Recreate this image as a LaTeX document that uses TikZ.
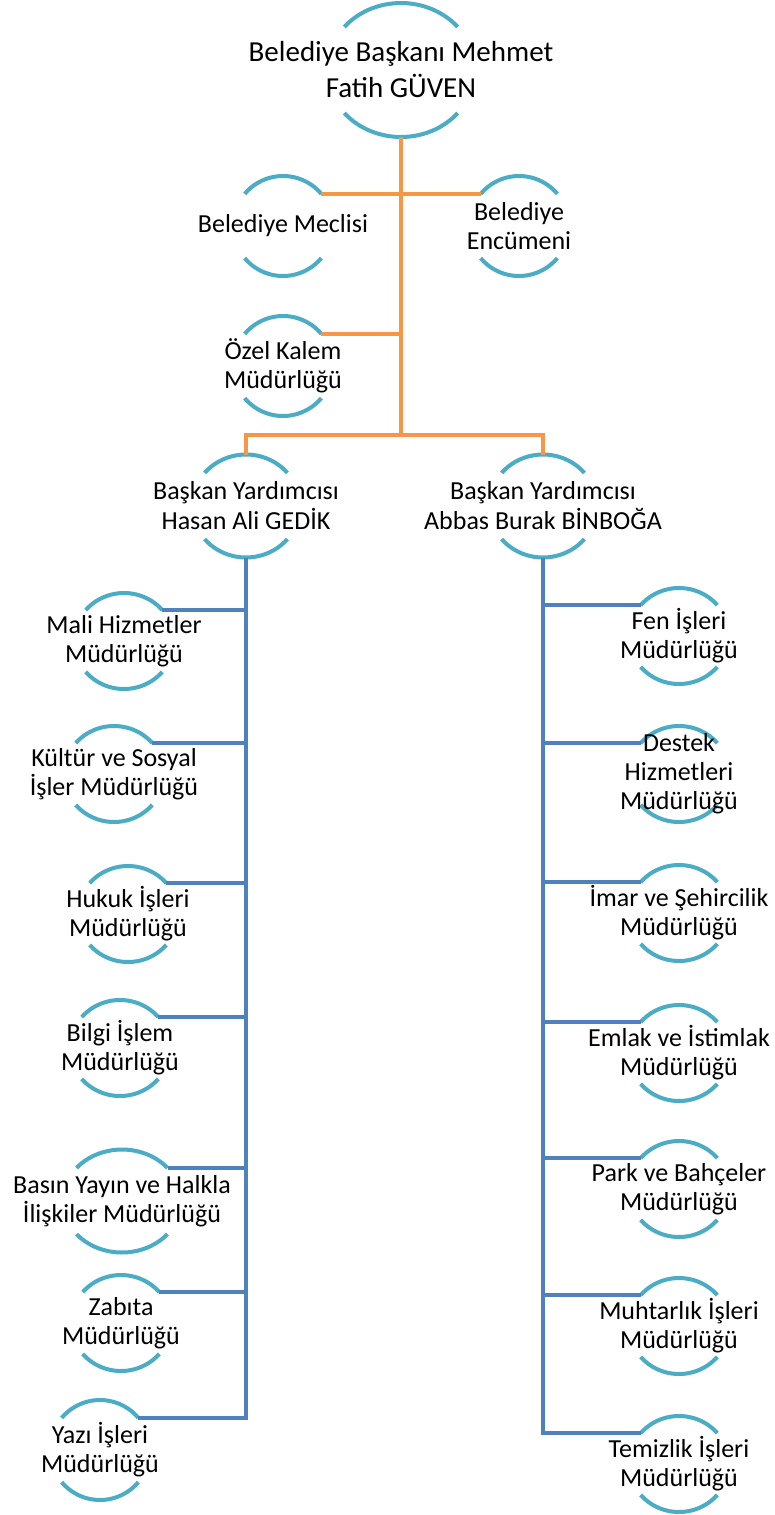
\documentclass[tikz,border=0pt]{standalone}
\usepackage{fontspec}
\setmainfont{Carlito}
\usetikzlibrary{calc}
\definecolor{arcb}{HTML}{4BACC6}
\definecolor{orl}{HTML}{F79646}
\definecolor{bll}{HTML}{4F81BD}
\tikzset{
  txt/.style={align=center, font=\fontsize{26}{29}\selectfont, inner sep=0pt, text=black},
  bigtxt/.style={align=center, font=\fontsize{29}{36}\selectfont, inner sep=0pt, text=black},
  vptxt/.style={align=center, font=\fontsize{26}{30}\selectfont, inner sep=0pt, text=black},
  arcline/.style={draw=arcb, line width=4pt},
  orline/.style={draw=orl, line width=4pt},
  blline/.style={draw=bll, line width=4.5pt},
}
% #1 name, #2 x, #3 y (downwards), #4 x radius, #5 y radius, #6 text style, #7 text
\newcommand\bubble[7]{%
  \coordinate (#1-c) at (#2,-#3);
  \coordinate (#1-r) at ($(#1-c)+(40:#4 and #5)$);
  \coordinate (#1-l) at ($(#1-c)+(140:#4 and #5)$);
  \coordinate (#1-t) at ($(#1-c)+(0,#5)$);
  \coordinate (#1-b) at ($(#1-c)+(0,-#5)$);
  \draw[arcline] (#1-r) arc[start angle=40, end angle=140, x radius=#4, y radius=#5];
  \draw[arcline] ($(#1-c)+(220:#4 and #5)$) arc[start angle=220, end angle=320, x radius=#4, y radius=#5];
  \node[#6] (#1) at (#1-c) {#7};
}
\begin{document}
\begin{tikzpicture}[x=1pt,y=1pt]
\useasboundingbox (0,0) rectangle (774,-1515);
\fill[white] (0,0) rectangle (774,-1515);

\bubble{top}{401}{70}{74}{67}{bigtxt}{Belediye Başkanı Mehmet\\Fatih GÜVEN}
\bubble{mec}{283}{226}{50}{50}{txt}{Belediye Meclisi}
\bubble{enc}{519}{226}{50}{50}{txt}{Belediye\\Encümeni}
\bubble{kal}{283}{366}{50}{50}{txt}{Özel Kalem\\Müdürlüğü}
\bubble{vpl}{246}{506}{54}{51.5}{vptxt}{Başkan Yardımcısı\\Hasan Ali GEDİK}
\bubble{vpr}{543}{506}{54}{51.5}{vptxt}{Başkan Yardımcısı\\Abbas Burak BİNBOĞA}

\bubble{mal}{124}{641}{50}{48}{txt}{Mali Hizmetler\\Müdürlüğü}
\bubble{kul}{114}{774}{50}{48}{txt}{Kültür ve Sosyal\\İşler Müdürlüğü}
\bubble{huk}{128}{914}{50}{48}{txt}{Hukuk İşleri\\Müdürlüğü}
\bubble{bil}{120}{1048}{50}{48}{txt}{Bilgi İşlem\\Müdürlüğü}
\bubble{bas}{122}{1201}{59.4}{51.5}{txt}{Basın Yayın ve Halkla\\İlişkiler Müdürlüğü}
\bubble{zab}{121}{1323}{50}{48}{txt}{Zabıta\\Müdürlüğü}
\bubble{yaz}{100}{1450}{50}{50}{txt}{Yazı İşleri\\Müdürlüğü}

\bubble{fen}{679}{636}{50}{48}{txt}{Fen İşleri\\Müdürlüğü}
\bubble{des}{679}{774}{50}{48}{txt}{Destek\\Hizmetleri\\Müdürlüğü}
\bubble{ima}{679}{913}{50}{48}{txt}{İmar ve Şehircilik\\Müdürlüğü}
\bubble{eml}{679}{1053}{50}{48}{txt}{Emlak ve İstimlak\\Müdürlüğü}
\bubble{par}{679}{1189}{50}{48}{txt}{Park ve Bahçeler\\Müdürlüğü}
\bubble{muh}{679}{1326}{50}{48}{txt}{Muhtarlık İşleri\\Müdürlüğü}
\bubble{tem}{679}{1464}{50}{48}{txt}{Temizlik İşleri\\Müdürlüğü}

% orange connectors
\coordinate (hub) at (401,-435);
\draw[orline] (top-b) -- (hub);
\draw[orline] (mec-r) -- (enc-l);
\draw[orline] (kal-r) -- (kal-r -| hub);
\draw[orline] (vpl-t) |- (hub) -| (vpr-t);

% blue connectors
\draw[blline] (vpl-b) |- (yaz-r);
\foreach \n in {mal,kul,huk,bil,bas,zab} \draw[blline] (\n-r) -- (\n-r -| vpl-b);
\draw[blline] (vpr-b) |- (tem-l);
\foreach \n in {fen,des,ima,eml,par,muh} \draw[blline] (\n-l) -- (\n-l -| vpr-b);
\end{tikzpicture}
\end{document}
